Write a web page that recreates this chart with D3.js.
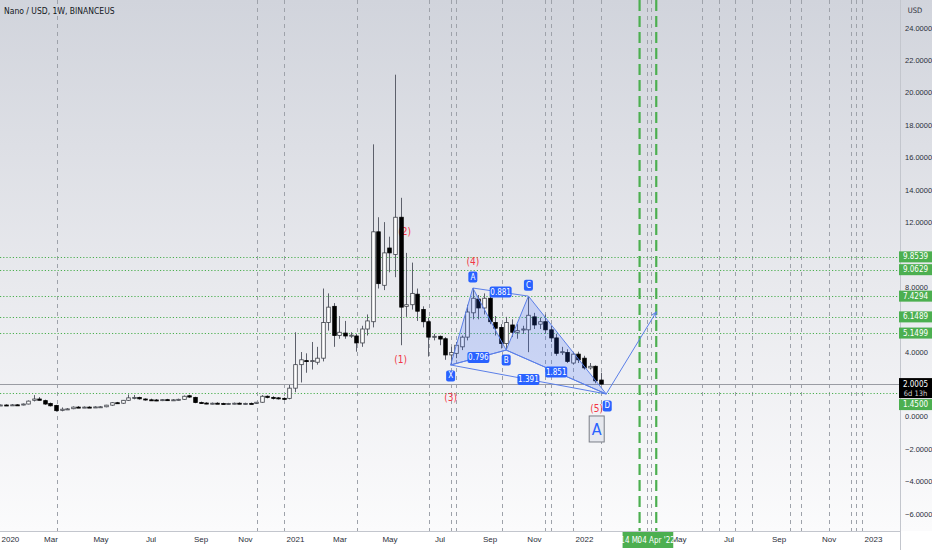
<!DOCTYPE html>
<html><head><meta charset="utf-8">
<script src="https://cdn.jsdelivr.net/npm/d3@7"></script>
<style>
body{margin:0;background:#fff;}
svg{display:block;font-family:"Liberation Sans Narrow","DejaVu Sans Condensed","Roboto",sans-serif;}
</style>
</head><body>
<svg id="c" width="932" height="550"></svg>
<script>
// ---------------- DATA ----------------
const title = "Nano / USD, 1W, BINANCEUS";
const currency = "USD";
const firstWeek = "2019-12-30";   // weekly candles, one per week from here
const opens  = [.70,.71,.70,.72,.71,.77,1.00,1.08,.98,.80,.68,.38,.45,.48,.58,.57,.58,.57,.59,.60,.70,.85,.82,1.00,1.15,1.17,1.08,1.03,1.02,1.00,1.04,1.01,1.03,1.06,1.28,1.18,.86,.83,.80,.82,.80,.78,.80,.82,.79,.81,.80,.88,1.25,1.18,1.15,1.12,1.12,
  1.75,3.20,3.45,3.40,3.35,3.60,5.80,6.80,5.00,5.15,5.00,4.97,4.54,5.40,5.85,11.40,8.10,10.40,10.00,12.30,6.80,6.90,7.55,6.60,5.85,4.90,4.95,4.80,3.80,3.90,4.30,4.90,6.40,7.25,6.70,7.30,5.80,5.50,4.50,5.65,5.20,5.35,5.35,6.15,5.70,5.85,5.35,4.85,3.95,3.95,3.30,3.85,3.60,3.00,3.10,2.25];
const highs  = [.74,.75,.77,.76,.80,.99,1.32,1.20,1.04,.86,.72,.56,.52,.62,.64,.62,.63,.63,.65,.72,.88,.90,1.02,1.36,1.33,1.22,1.12,1.10,1.08,1.07,1.09,1.08,1.10,1.30,1.34,1.22,.92,.88,.86,.88,.85,.84,.86,.87,.85,.86,.90,1.32,1.30,1.25,1.20,1.18,1.95,
  5.20,3.98,3.90,4.60,4.30,7.90,7.60,7.00,6.20,5.90,5.20,5.10,5.60,6.30,16.80,12.30,12.00,11.10,21.10,13.50,10.10,9.50,7.90,6.80,6.10,5.10,5.00,4.90,4.30,4.60,5.00,6.90,7.93,7.50,7.60,7.50,6.20,5.70,6.15,6.00,5.70,5.60,7.43,6.40,6.10,6.30,5.60,5.10,4.30,4.15,4.00,4.00,3.75,3.30,3.15,2.70];
const lows   = [.66,.67,.68,.68,.69,.75,.93,1.00,.72,.62,.30,.32,.40,.45,.52,.52,.54,.53,.55,.57,.66,.78,.78,.96,1.06,1.04,.98,.97,.95,.95,.98,.96,.98,1.02,1.15,.82,.78,.76,.75,.77,.74,.73,.75,.76,.74,.76,.77,.85,1.12,1.05,1.05,1.02,1.06,
  1.50,2.10,2.70,2.90,3.20,3.40,5.30,4.30,4.80,4.80,4.85,4.00,4.30,5.00,5.50,7.90,7.80,8.90,8.60,4.40,6.15,6.60,5.90,5.50,3.70,4.70,4.40,3.50,3.18,3.60,4.10,4.70,6.00,6.00,6.30,5.70,5.00,4.20,4.10,4.90,4.80,5.10,3.97,5.40,5.40,5.10,4.60,3.75,3.80,3.30,3.20,3.30,2.90,2.90,2.05,1.95];
const closes = [.71,.70,.72,.71,.77,.95,1.08,1.00,.77,.66,.36,.45,.47,.58,.57,.58,.57,.59,.60,.70,.85,.83,1.00,1.15,1.18,1.09,1.03,1.02,1.00,1.04,1.01,1.03,1.06,1.25,1.20,.86,.83,.80,.82,.80,.78,.80,.82,.79,.81,.80,.88,1.25,1.18,1.15,1.12,1.10,1.75,
  3.20,3.50,3.40,3.45,3.60,5.80,6.75,5.00,5.20,4.97,5.02,4.54,5.40,5.90,11.40,8.20,10.10,10.10,12.30,6.75,6.90,7.60,6.50,5.85,4.90,4.95,4.78,3.80,3.95,4.40,4.90,6.45,7.30,6.70,7.30,5.85,5.45,4.50,5.80,5.20,5.30,5.40,6.25,5.65,5.85,5.35,4.85,3.90,4.00,3.40,3.85,3.50,3.00,3.10,2.20,2.0005];

// axis ticks (values hidden behind price tags are not shown in the reference)
const yTicks = [-6,-4,-2,0,4,8,12,14,16,18,20,22,24];
const timeTickDates  = ["2019-12-30","2020-03-02","2020-05-04","2020-07-06","2020-09-07","2020-11-02","2021-01-04","2021-03-01","2021-05-03","2021-07-05","2021-09-06","2021-11-01","2022-01-03","2022-05-02","2022-07-04","2022-09-05","2022-11-07","2023-01-02"];
const timeTickLabels = ["2020","Mar","May","Jul","Sep","Nov","2021","Mar","May","Jul","Sep","Nov","2022","May","Jul","Sep","Nov","2023"];

const levelPrices = [9.8539, 9.0629, 7.4294, 6.1489, 5.1499, 1.4500];
const lastPrice = 2.0005;
const countdown = "6d 13h";

const grayLineDates = ["2020-03-10","2020-11-17","2020-12-21","2021-03-23","2021-06-22","2021-07-19","2021-07-26","2021-09-22","2021-11-15","2021-11-22","2021-12-20","2022-01-24","2022-03-23","2022-03-29","2022-05-31","2022-06-22","2022-07-12","2022-08-02","2022-09-19","2022-10-03","2022-11-08","2022-12-05","2022-12-12","2022-12-19"];
const greenLineDates = ["2022-03-14","2022-04-04"];
const greenLineLabels = ["14 Mar '22","04 Apr '22"];

const patternNames  = ["X","A","B","C","D"];
const patternDates  = ["2021-07-19","2021-08-16","2021-09-27","2021-10-25","2022-01-31"];
const patternPrices = [3.18, 7.93, 4.10, 7.43, 1.39];
const ratioLabels = ["0.796","0.881","1.851","1.391"];   // X-B, A-C, B-D, X-D
const projectionDate = "2022-04-04", projectionPrice = 6.45;

const waveLabels = ["(1)","(2)","(3)","(4)","(5)"];
const waveDates  = ["2021-05-17","2021-05-22","2021-07-19","2021-08-16","2022-01-19"];
const wavePrices = [3.49, 11.40, 1.20, 9.55, 0.52];
const boxLabel = "A", boxDate = "2022-01-19", boxPrice = -0.77;

// ---------------- LAYOUT ----------------
const W = 932, H = 550, plotR = 900, plotB = 531;
const svg = d3.select("#c");
const P = s => new Date(s + "T00:00:00Z");

const x = d3.scaleUtc().domain([P("2021-01-04"), P("2022-01-03")]).range([295, 584]);
const y = d3.scaleLinear().domain([0, 24]).range([416.5, 27.7]);
const weekPx = x(P("2021-01-11")) - x(P("2021-01-04"));

const defs = svg.append("defs");
const g = defs.append("linearGradient").attr("id","bg").attr("x1",0).attr("y1",0).attr("x2",0).attr("y2",1);
g.append("stop").attr("offset","0%").attr("stop-color","#d1d4dc");
g.append("stop").attr("offset","55%").attr("stop-color","#e9eaee");
g.append("stop").attr("offset","100%").attr("stop-color","#fbfbfc");
defs.append("clipPath").attr("id","clip").append("rect").attr("width",plotR).attr("height",plotB);
defs.append("marker").attr("id","arr").attr("viewBox","0 0 10 10").attr("refX",9).attr("refY",5)
  .attr("markerWidth",6).attr("markerHeight",6).attr("orient","auto")
  .append("path").attr("d","M0,1 L9,5 L0,9").attr("fill","none").attr("stroke","#5b7fe8").attr("stroke-width",1.5);

svg.append("rect").attr("width",W).attr("height",plotB).attr("fill","url(#bg)");
svg.append("rect").attr("y",plotB).attr("width",W).attr("height",H-plotB).attr("fill","#ffffff");

const plot = svg.append("g").attr("clip-path","url(#clip)");

// vertical dashed lines
plot.selectAll(".vg").data(grayLineDates).join("line")
  .attr("x1",d=>Math.round(x(P(d)))+.5).attr("x2",d=>Math.round(x(P(d)))+.5)
  .attr("y1",0).attr("y2",plotB).attr("stroke","#9ea2aa").attr("stroke-width",1).attr("stroke-dasharray","4,4");
plot.selectAll(".vgr").data(greenLineDates).join("line")
  .attr("x1",d=>x(P(d))).attr("x2",d=>x(P(d)))
  .attr("y1",0).attr("y2",plotB).attr("stroke","#4caf50").attr("stroke-width",2.2).attr("stroke-dasharray","11,5");

// horizontal levels
plot.selectAll(".lv").data(levelPrices).join("line")
  .attr("x1",0).attr("x2",plotR).attr("y1",d=>Math.round(y(d))+.5).attr("y2",d=>Math.round(y(d))+.5)
  .attr("stroke","#4caf50").attr("stroke-width",1).attr("stroke-dasharray","1.2,2");
plot.append("line").attr("x1",0).attr("x2",plotR).attr("y1",Math.round(y(lastPrice))+.5).attr("y2",Math.round(y(lastPrice))+.5)
  .attr("stroke","#9a9ca3").attr("stroke-width",1);

// wave labels (under candles)
plot.selectAll(".wv").data(waveLabels).join("text")
  .attr("x",(d,i)=>x(P(waveDates[i]))).attr("y",(d,i)=>y(wavePrices[i]))
  .attr("text-anchor","middle").attr("dominant-baseline","central")
  .attr("font-size",10).attr("fill","#f23645").text(d=>d);

// candles
const candles = opens.map((o,i)=>({d:new Date(+P(firstWeek)+i*7*864e5), o, h:highs[i], l:lows[i], c:closes[i]}));
const bw = weekPx*0.64;
const cg = plot.append("g");
cg.selectAll(".wk").data(candles).join("line")
  .attr("x1",d=>Math.round(x(d.d))+.5).attr("x2",d=>Math.round(x(d.d))+.5)
  .attr("y1",d=>y(d.h)).attr("y2",d=>y(d.l)).attr("stroke","#5d606b").attr("stroke-width",1);
cg.selectAll(".bd").data(candles).join("rect")
  .attr("x",d=>Math.round(x(d.d))+.5-bw/2).attr("width",bw)
  .attr("y",d=>y(Math.max(d.o,d.c))).attr("height",d=>Math.max(1,Math.abs(y(d.o)-y(d.c))))
  .attr("fill",d=>d.c>=d.o?"#ffffff":"#000000").attr("stroke",d=>d.c>=d.o?"#3a3d45":"#000").attr("stroke-width",.8);

// harmonic pattern
const pts = patternNames.map((n,i)=>({n, px:x(P(patternDates[i])), py:y(patternPrices[i])}));
const [pX,pA,pB,pC,pD] = pts;
const pg = plot.append("g");
[[pX,pA,pB],[pB,pC,pD]].forEach(t=>{
  pg.append("path").attr("d","M"+t.map(p=>p.px+","+p.py).join("L")+"Z")
    .attr("fill","rgba(41,98,255,0.19)").attr("stroke","#5b7fe8").attr("stroke-width",1);
});
const ratioPairs = [[pX,pB],[pA,pC],[pB,pD],[pX,pD]];
ratioPairs.forEach(([a,b])=>{
  pg.append("line").attr("x1",a.px).attr("y1",a.py).attr("x2",b.px).attr("y2",b.py)
    .attr("stroke","#5b7fe8").attr("stroke-width",1);
});
// projection arrow
pg.append("line").attr("x1",pD.px).attr("y1",pD.py)
  .attr("x2",x(P(projectionDate))).attr("y2",y(projectionPrice))
  .attr("stroke","#5b7fe8").attr("stroke-width",1).attr("marker-end","url(#arr)");

function blueTag(cx, cy, txt, w){
  pg.append("rect").attr("x",cx-w/2).attr("y",cy-5.5).attr("width",w).attr("height",11).attr("rx",2).attr("fill","#2962ff");
  pg.append("text").attr("x",cx).attr("y",cy).attr("text-anchor","middle").attr("dominant-baseline","central")
    .attr("font-size",8).attr("fill","#fff").text(txt);
}
ratioPairs.forEach(([a,b],i)=>blueTag((a.px+b.px)/2,(a.py+b.py)/2,ratioLabels[i],22));
const pointOffsets = [11,-11,10,-11,12];
pts.forEach((p,i)=>blueTag(p.px+(i===4?1:0), p.py+pointOffsets[i], p.n, 9));

// boxed A
const bx = x(P(boxDate)), by = y(boxPrice);
plot.append("rect").attr("x",bx-7.5).attr("y",by-13).attr("width",15).attr("height",26)
  .attr("fill","#e6e8ee").attr("stroke","#7b7e87").attr("stroke-width",1);
plot.append("text").attr("x",bx).attr("y",by+1).attr("text-anchor","middle").attr("dominant-baseline","central")
  .attr("font-size",16).attr("fill","#2962ff").text(boxLabel);

// title
svg.append("text").attr("x",4).attr("y",11).attr("dominant-baseline","central")
  .attr("font-size",8.5).attr("fill","#131722").text(title);

// ---------------- AXES ----------------
svg.append("line").attr("x1",plotR+.5).attr("x2",plotR+.5).attr("y1",0).attr("y2",H).attr("stroke","#c3c6cd");
svg.append("line").attr("x1",0).attr("x2",plotR).attr("y1",plotB+.5).attr("y2",plotB+.5).attr("stroke","#c3c6cd");

const yAxis = svg.append("g").attr("transform",`translate(${plotR},0)`)
  .call(d3.axisRight(y).tickValues(yTicks).tickFormat(d3.format(".4f")).tickSize(0).tickPadding(5));
yAxis.select(".domain").remove();
yAxis.selectAll("text").attr("font-size",7.5).attr("fill","#2a2e39").attr("font-family",null);
svg.append("text").attr("x",915).attr("y",10).attr("text-anchor","middle").attr("dominant-baseline","central")
  .attr("font-size",7.5).attr("fill","#2a2e39").text(currency);

const xAxis = svg.append("g").attr("transform",`translate(0,${plotB})`)
  .call(d3.axisBottom(x).tickValues(timeTickDates.map(P)).tickFormat((d,i)=>timeTickLabels[i]).tickSize(0).tickPadding(5));
xAxis.select(".domain").remove();
xAxis.selectAll("text").attr("font-size",8).attr("fill","#2a2e39").attr("font-family",null);
// first label sits against the left edge
xAxis.selectAll(".tick").filter((d,i)=>i===0).select("text").attr("text-anchor","start").attr("x",-x(P(timeTickDates[0]))+1);

// price tags
const tagW = 33, tagH = 11, tagX = 899;
const lastY = y(lastPrice);
const lastBox = {top:lastY-6, bottom:lastY+14};
svg.append("rect").attr("x",tagX).attr("y",lastBox.top).attr("width",tagW).attr("height",lastBox.bottom-lastBox.top).attr("fill","#000");
svg.append("text").attr("x",tagX+tagW/2).attr("y",lastY).attr("text-anchor","middle").attr("dominant-baseline","central")
  .attr("font-size",8).attr("fill","#fff").text(d3.format(".4f")(lastPrice));
svg.append("text").attr("x",tagX+tagW/2).attr("y",lastY+9.5).attr("text-anchor","middle").attr("dominant-baseline","central")
  .attr("font-size",7.5).attr("fill","#d0d0d0").text(countdown);
levelPrices.forEach(p=>{
  let cy = y(p);
  if (cy+tagH/2 > lastBox.top && cy-tagH/2 < lastBox.bottom) cy = lastBox.bottom + 1 + tagH/2;
  svg.append("rect").attr("x",tagX).attr("y",cy-tagH/2).attr("width",tagW).attr("height",tagH).attr("fill","#4caf50");
  svg.append("text").attr("x",tagX+tagW/2).attr("y",cy).attr("text-anchor","middle").attr("dominant-baseline","central")
    .attr("font-size",8).attr("fill","#fff").text(d3.format(".4f")(p));
});

// time tags (the later one drawn over the earlier one, as in the reference)
greenLineDates.forEach((d,i)=>{
  const cx = x(P(d));
  svg.append("rect").attr("x",cx-17).attr("y",plotB+1).attr("width",34).attr("height",16).attr("fill","#4caf50");
  svg.append("text").attr("x",cx).attr("y",plotB+9).attr("text-anchor","middle").attr("dominant-baseline","central")
    .attr("font-size",8).attr("fill","#fff").text(greenLineLabels[i]);
});
</script>
</body></html>
